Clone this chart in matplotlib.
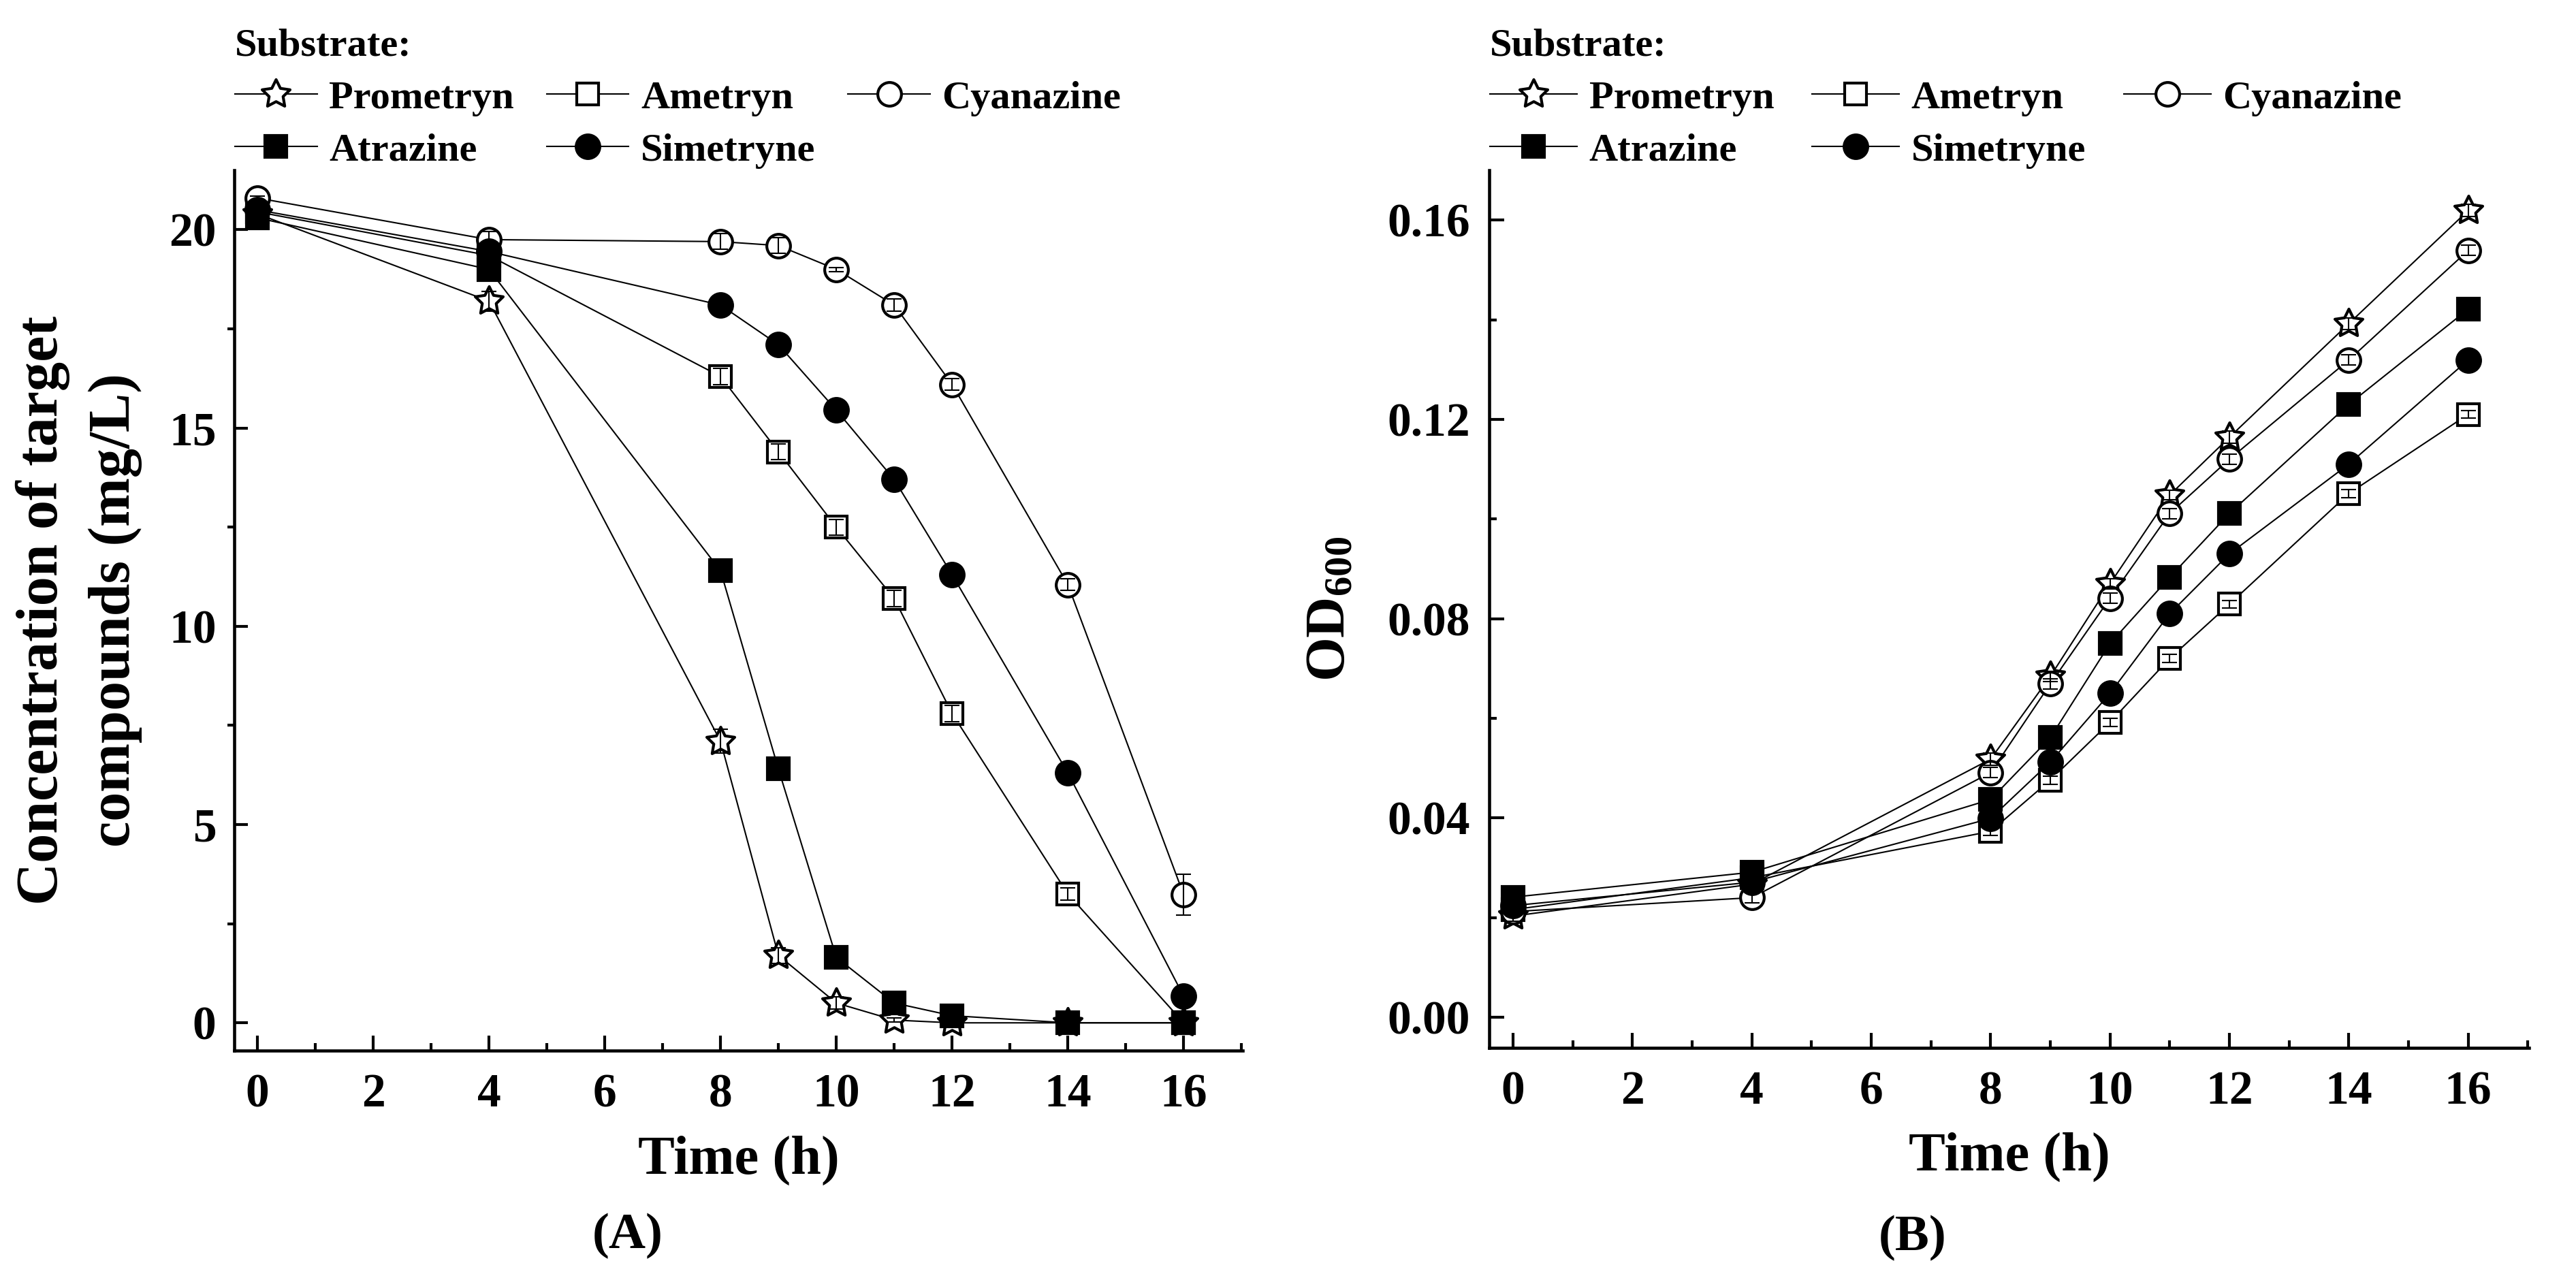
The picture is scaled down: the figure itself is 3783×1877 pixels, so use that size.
import numpy as np
import matplotlib.pyplot as plt
from matplotlib.path import Path
from matplotlib.ticker import MultipleLocator, FormatStrFormatter

# sampling times (h)
time_h = [0, 4, 8, 9, 10, 11, 12, 14, 16]

substrates = ['Prometryn', 'Ametryn', 'Cyanazine', 'Atrazine', 'Simetryne']

# (A) concentration of target compounds, mg/L
conc_prometryn = [20.4, 18.2, 7.1, 1.7, 0.5, 0.07, 0.0, 0.0, 0.0]
conc_ametryn = [20.45, 19.35, 16.3, 14.4, 12.5, 10.7, 7.8, 3.25, 0.0]
conc_cyanazine = [20.8, 19.75, 19.7, 19.6, 19.0, 18.1, 16.1, 11.05, 3.23]
conc_atrazine = [20.3, 19.0, 11.4, 6.4, 1.65, 0.5, 0.18, 0.0, 0.0]
conc_simetryne = [20.5, 19.45, 18.1, 17.1, 15.45, 13.7, 11.3, 6.3, 0.67]

conc_err_prometryn = [0.2, 0.25, 0.3, 0.2, 0.15, 0.05, 0.02, 0.01, 0.01]
conc_err_ametryn = [0.15, 0.2, 0.2, 0.2, 0.2, 0.2, 0.2, 0.15, 0.02]
conc_err_cyanazine = [0.05, 0.2, 0.2, 0.2, 0.05, 0.15, 0.15, 0.15, 0.52]
conc_err_atrazine = [0.2, 0.2, 0.2, 0.2, 0.1, 0.1, 0.05, 0.02, 0.02]
conc_err_simetryne = [0.2, 0.25, 0.2, 0.2, 0.2, 0.2, 0.2, 0.2, 0.1]

# (B) cell growth, OD600
od_prometryn = [0.0203, 0.0267, 0.0518, 0.0684, 0.0870, 0.1048, 0.1164, 0.1392, 0.1619]
od_ametryn = [0.0216, 0.0280, 0.0373, 0.0476, 0.0592, 0.0720, 0.0829, 0.1051, 0.1210]
od_cyanazine = [0.0212, 0.0240, 0.0491, 0.0669, 0.0841, 0.1011, 0.1120, 0.1319, 0.1539]
od_atrazine = [0.0241, 0.0291, 0.0437, 0.0561, 0.0750, 0.0883, 0.1011, 0.1230, 0.1421]
od_simetryne = [0.0224, 0.0271, 0.0399, 0.0512, 0.0650, 0.0810, 0.0930, 0.1110, 0.1319]

od_err_prometryn = [0.0010, 0.0008, 0.0012, 0.0010, 0.0010, 0.0010, 0.0012, 0.0012, 0.0012]
od_err_ametryn = [0.0008, 0.0008, 0.0008, 0.0008, 0.0008, 0.0008, 0.0008, 0.0008, 0.0008]
od_err_cyanazine = [0.0010, 0.0010, 0.0010, 0.0010, 0.0010, 0.0010, 0.0010, 0.0010, 0.0010]
od_err_atrazine = [0.0008, 0.0008, 0.0008, 0.0008, 0.0008, 0.0008, 0.0008, 0.0008, 0.0008]
od_err_simetryne = [0.0008, 0.0008, 0.0008, 0.0008, 0.0008, 0.0008, 0.0008, 0.0008, 0.0008]

plt.rcParams['font.family'] = ['Liberation Serif', 'DejaVu Serif']
plt.rcParams['font.weight'] = 'bold'
plt.rcParams['mathtext.fontset'] = 'custom'
plt.rcParams['mathtext.rm'] = 'Liberation Serif:bold'
plt.rcParams['mathtext.it'] = 'Liberation Serif:bold'
plt.rcParams['mathtext.bf'] = 'Liberation Serif:bold'
plt.rcParams['mathtext.default'] = 'rm'

W, H = 3783, 1877
star = Path.unit_regular_star(5, innerCircle=0.5)

# marker style per substrate: (marker, size, facecolor)
styles = {
    'Prometryn': (star, 31, 'white'),
    'Ametryn': ('s', 23, 'white'),
    'Cyanazine': ('o', 25, 'white'),
    'Atrazine': ('s', 23, 'black'),
    'Simetryne': ('o', 25, 'black'),
}


def draw_panel(ax, values, errors):
    handles = {}
    for name in substrates:
        mk, ms, fc = styles[name]
        ln, = ax.plot(time_h, values[name], color='black', lw=1.5,
                      marker=mk, ms=ms, mfc=fc, mec='black', mew=3,
                      zorder=3, label=name)
        handles[name] = ln
    for name in substrates:
        ax.errorbar(time_h, values[name], yerr=errors[name], fmt='none',
                    ecolor='black', elinewidth=1.5, capsize=8, capthick=1.5,
                    zorder=4)
    for side in ['top', 'right']:
        ax.spines[side].set_visible(False)
    for side in ['left', 'bottom']:
        ax.spines[side].set_linewidth(3.3)
    ax.set_xlim(-0.4, 17.02)
    ax.xaxis.set_major_locator(MultipleLocator(2))
    ax.xaxis.set_minor_locator(MultipleLocator(1))
    ax.tick_params(axis='x', which='major', direction='in', length=16,
                   width=3, pad=24, labelsize=50)
    ax.tick_params(axis='x', which='minor', direction='in', length=8, width=3)
    ax.set_xlabel('Time (h)', fontsize=58, fontweight='bold')
    ax.xaxis.set_label_coords(0.5, -0.1245)
    ax.xaxis.label.set_verticalalignment('center')

    order = ['Prometryn', 'Atrazine', 'Ametryn', 'Simetryne', 'Cyanazine']
    return [handles[n] for n in order], order


def add_legend(ax, hs, labs, x_px, hlen, cspace):
    ax.legend(hs, labs, ncol=3, loc='upper left',
              bbox_to_anchor=(x_px / W, 1 - 42 / H),
              bbox_transform=fig.transFigure,
              frameon=False, fontsize=42, title='Substrate:',
              title_fontproperties={'size': 42, 'weight': 'bold'},
              alignment='left', handlelength=hlen, handletextpad=0.3,
              columnspacing=cspace, labelspacing=0.41, borderpad=0,
              borderaxespad=0, numpoints=1)


fig = plt.figure(figsize=(W / 100, H / 100), dpi=100)

# ---- panel A ----
ax_a = fig.add_axes([344 / W, 1 - 1543 / H, (1825 - 344) / W, (1543 - 250) / H])
conc = dict(zip(substrates, [conc_prometryn, conc_ametryn, conc_cyanazine,
                             conc_atrazine, conc_simetryne]))
conc_err = dict(zip(substrates, [conc_err_prometryn, conc_err_ametryn,
                                 conc_err_cyanazine, conc_err_atrazine,
                                 conc_err_simetryne]))
hs, labs = draw_panel(ax_a, conc, conc_err)
ax_a.set_ylim(-0.7, 21.5)
ax_a.yaxis.set_major_locator(MultipleLocator(5))
ax_a.yaxis.set_minor_locator(MultipleLocator(2.5))
ax_a.tick_params(axis='y', which='major', direction='in', length=14.5,
                 width=3, pad=19, labelsize=50)
ax_a.tick_params(axis='y', which='minor', direction='out', length=7, width=3)
ax_a.set_ylabel('Concentration of target\ncompounds (mg/L)', fontsize=62,
                fontweight='bold', linespacing=1.45)
ax_a.yaxis.set_label_coords((116 - 344) / 1481, 0.5)
ax_a.yaxis.label.set_verticalalignment('center')
add_legend(ax_a, hs, labs, 345, 2.07, 0.82)

# ---- panel B ----
ax_b = fig.add_axes([2187 / W, 1 - 1539 / H, (3714 - 2187) / W, (1539 - 250) / H])
od = dict(zip(substrates, [od_prometryn, od_ametryn, od_cyanazine,
                           od_atrazine, od_simetryne]))
od_err = dict(zip(substrates, [od_err_prometryn, od_err_ametryn,
                               od_err_cyanazine, od_err_atrazine,
                               od_err_simetryne]))
hs, labs = draw_panel(ax_b, od, od_err)
ax_b.set_ylim(-0.00615, 0.170)
ax_b.yaxis.set_major_locator(MultipleLocator(0.04))
ax_b.yaxis.set_minor_locator(MultipleLocator(0.02))
ax_b.yaxis.set_major_formatter(FormatStrFormatter('%.2f'))
ax_b.tick_params(axis='y', which='major', direction='in', length=16,
                 width=3, pad=20, labelsize=50)
ax_b.tick_params(axis='y', which='minor', direction='in', length=8, width=3)
ax_b.set_ylabel('OD$_{600}$', fontsize=60, fontweight='bold')
ax_b.yaxis.set_label_coords((1955 - 2187) / 1527, 0.5)
ax_b.yaxis.label.set_verticalalignment('center')
add_legend(ax_b, hs, labs, 2188, 2.2, 0.95)

fig.text(922 / W, 1 - 1815 / H, '(A)', ha='center', va='center',
         fontsize=54, fontweight='bold')
fig.text(2809 / W, 1 - 1818 / H, '(B)', ha='center', va='center',
         fontsize=54, fontweight='bold')

fig.savefig('out.png', dpi=100, facecolor='white')
